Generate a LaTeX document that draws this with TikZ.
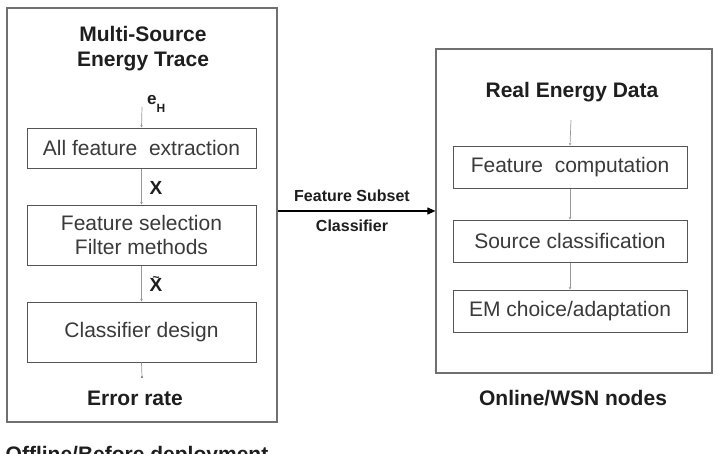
\documentclass[tikz,border=0pt]{standalone}
\usepackage{fontspec}
\setmainfont{Liberation Sans}
\usetikzlibrary{arrows.meta}
\definecolor{outergray}{HTML}{707070}
\definecolor{boxgray}{HTML}{555555}
\definecolor{linegray}{HTML}{999999}
\definecolor{textgray}{HTML}{3A3A3A}
\definecolor{titlegray}{HTML}{1E1E1E}
\begin{document}
\begin{tikzpicture}[x=1pt,y=-1pt,
  outerbox/.style={draw=outergray, line width=1.2pt, inner sep=0pt},
  stepbox/.style={draw=boxgray, line width=1pt, inner sep=0pt, align=center,
    font=\fontsize{21}{24}\selectfont, text=textgray},
  title/.style={font=\bfseries\fontsize{21}{25}\selectfont, text=titlegray, align=center, inner sep=0pt},
  lbl/.style={font=\bfseries\fontsize{16}{18}\selectfont, text=titlegray, inner sep=0pt},
  conn/.style={draw=linegray, line width=0.7pt, -{Stealth[length=2.5pt,width=2.5pt]}},
  bigarrow/.style={draw=black, line width=1.1pt, -{Triangle[length=8pt,width=7pt]}}]
\useasboundingbox (0,0) rectangle (718,453);
\fill[white] (0,0) rectangle (718,453);

% outer boxes
\node[outerbox, minimum width=270pt, minimum height=414pt] (L) at (142,215) {};
\node[outerbox, minimum width=276pt, minimum height=324pt] (R) at (574,211) {};

% left column
\node[title] (t1) at (143,49) {Multi-Source\\Energy Trace};
\coordinate (eH) at (142,107);
\node[lbl, anchor=west] (eHl) at (147,104) {\fontsize{17}{18}\selectfont e\raisebox{-0.45em}{\fontsize{12}{12}\selectfont H}};
\node[stepbox, minimum width=229pt, minimum height=40pt] (b1) at (141.5,148) {All feature\ \ extraction};
\node[stepbox, minimum width=229pt, minimum height=60pt] (b2) at (141.5,235) {Feature selection\\Filter methods};
\node[stepbox, minimum width=229pt, minimum height=60pt] (b3) at (141.5,332) {Classifier design};
\coordinate (er) at (142,377);
\node[title] (err) at (135,398) {Error rate};
\node[lbl, font=\bfseries\fontsize{19}{20}\selectfont] (x1) at (156,188) {X};
\node[lbl, font=\bfseries\fontsize{19}{20}\selectfont] (x2) at (156,285) {\rlap{\raisebox{0.55em}[0pt][0pt]{\hspace{0.16em}\fontsize{12}{12}\selectfont\textasciitilde}}X};

\draw[conn] (eH) -- (b1.north);
\draw[conn] (b1.south) -- (b2.north);
\draw[conn] (b2.south) -- (b3.north);
\draw[draw=linegray, line width=0.7pt] (b3.south) -- (er);
\fill[boxgray] (er) circle (1pt);

\node[title, anchor=north] (off) at (137,446) {Offline/Before deployment};

% arrow
\draw[bigarrow] (R.west -| L.east) -- (R.west);
\node[lbl] (fs) at (352,196) {Feature Subset};
\node[lbl] (cl) at (352,226) {Classifier};

% right column
\node[title] (t2) at (572,92) {Real Energy Data};
\coordinate (rd) at (571,120);
\node[stepbox, minimum width=234pt, minimum height=42pt] (c1) at (570,167) {Feature\ \ computation};
\node[stepbox, minimum width=234pt, minimum height=42pt] (c2) at (570,241) {Source classification};
\node[stepbox, minimum width=234pt, minimum height=42pt] (c3) at (570,311) {EM choice/adaptation};
\draw[conn] (rd) -- (c1.north);
\draw[conn] (c1.south) -- (c2.north);
\draw[conn] (c2.south) -- (c3.north);
\node[title] (on) at (573,398) {Online/WSN nodes};
\end{tikzpicture}
\end{document}
